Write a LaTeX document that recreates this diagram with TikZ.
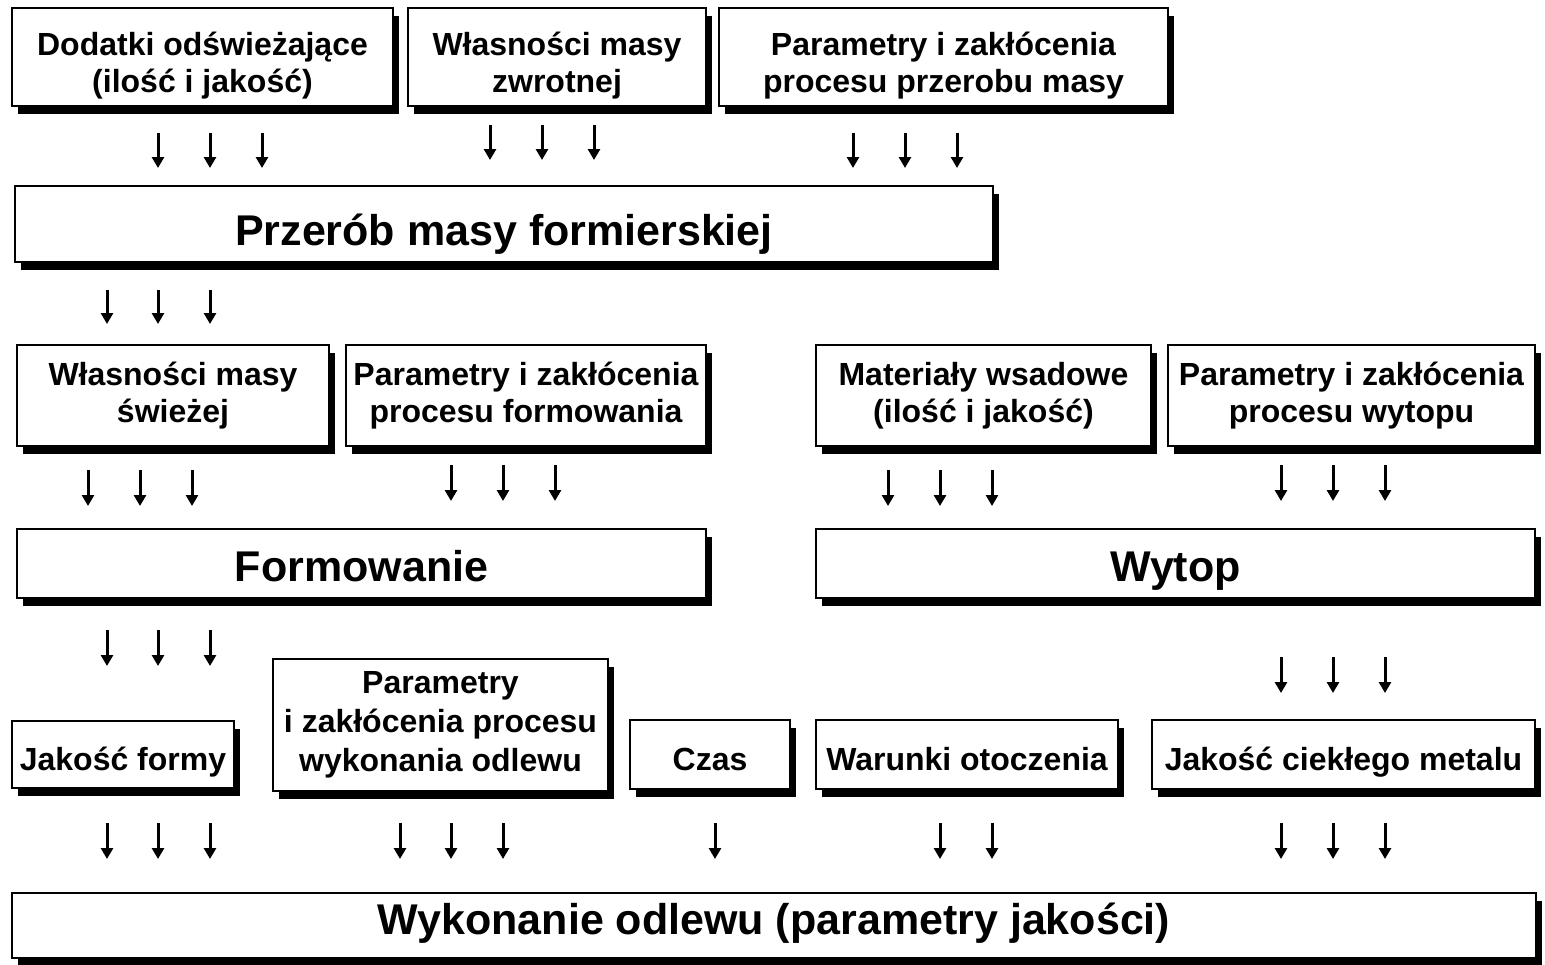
\documentclass[tikz,border=0pt]{standalone}
\usepackage{fontspec}
\setmainfont{Liberation Sans}
\usetikzlibrary{arrows.meta,shadows}

\tikzset{
  box/.style={draw=black, line width=1.3pt, fill=white, inner sep=0pt,
    drop shadow={shadow xshift=6pt, shadow yshift=-8pt, fill=black, opacity=1}},
  label/.style={inner sep=0pt, align=center, anchor=north,
    font=\bfseries\fontsize{32}{37}\selectfont},
  biglabel/.style={label, font=\bfseries\fontsize{43}{50}\selectfont},
  arr/.style={line width=3pt, -{Triangle[width=12pt,length=11pt]}}
}

% box given by its left/top and right/bottom edges, with its text set
% so that the first line sits on the given baseline
\newcommand\boxat[7]{%
  \node[box, minimum width={(#4-#2)*1pt}, minimum height={(#5-#3)*1pt}]
    (#1) at ({(#2+#4)/2},{(#3+#5)/2}) {};
  \node[label] (#1-t) at ({(#2+#4)/2},{#6-26}) {\rule{0pt}{26pt}#7};}
\newcommand\bigboxat[7]{%
  \node[box, minimum width={(#4-#2)*1pt}, minimum height={(#5-#3)*1pt}]
    (#1) at ({(#2+#4)/2},{(#3+#5)/2}) {};
  \node[biglabel] (#1-t) at ({(#2+#4)/2},{#6-35}) {\rule{0pt}{35pt}#7};}

% a group of short downward arrows at the given x positions
\newcommand\arrowsat[3]{%
  \foreach \ax in {#1} \draw[arr] (\ax,#2) -- (\ax,#3);}

\begin{document}
\begin{tikzpicture}[x=1pt,y=-1pt]
\useasboundingbox (0,0) rectangle (1545,964);

% row 1
\boxat{dod}{12}{8}{393}{106}{55}{Dodatki odświeżające\\(ilość i jakość)}
\boxat{wmz}{408}{8}{706}{106}{55}{Własności masy\\zwrotnej}
\boxat{ppm}{719}{8}{1168}{106}{55}{Parametry i zakłócenia\\procesu przerobu masy}
\arrowsat{158,210,262}{133}{168}
\arrowsat{490,542,594}{125}{160}
\arrowsat{853,905,957}{133}{168}

% row 2
\bigboxat{przerob}{15}{186}{993}{262}{245}{Przerób masy formierskiej}
\arrowsat{107,158,210}{290}{324}

% row 3
\boxat{wms}{17}{345}{329}{446}{385}{Własności masy\\świeżej}
\boxat{ppf}{346}{345}{706}{446}{385}{Parametry i zakłócenia\\procesu formowania}
\boxat{mw}{816}{345}{1151}{446}{385}{Materiały wsadowe\\(ilość i jakość)}
\boxat{ppw}{1168}{345}{1535}{446}{385}{Parametry i zakłócenia\\procesu wytopu}
\arrowsat{88,140,192}{470}{506}
\arrowsat{451,503,555}{465}{501}
\arrowsat{888,940,992}{470}{506}
\arrowsat{1281,1333,1385}{465}{501}

% row 4
\bigboxat{form}{17}{529}{706}{598}{581}{Formowanie}
\bigboxat{wytop}{816}{529}{1535}{598}{581}{Wytop}
\arrowsat{107,158,210}{630}{666}
\arrowsat{1281,1333,1385}{657}{693}

% row 5
\boxat{jf}{12}{721}{234}{788}{770}{Jakość formy}
\boxat{ppo}{273}{659}{608}{791}{693}{Parametry\\[2pt]i zakłócenia procesu\\[2pt]wykonania odlewu}
\boxat{czas}{630}{720}{790}{789}{770}{Czas}
\boxat{wo}{816}{720}{1118}{789}{770}{Warunki otoczenia}
\boxat{jcm}{1152}{720}{1535}{789}{770}{Jakość ciekłego metalu}
\arrowsat{107,158,210}{823}{859}
\arrowsat{400,451,503}{823}{859}
\arrowsat{715}{823}{859}
\arrowsat{940,992}{823}{859}
\arrowsat{1281,1333,1385}{823}{859}

% row 6
\bigboxat{wyk}{12}{893}{1536}{958}{934}{Wykonanie odlewu (parametry jakości)}
\end{tikzpicture}
\end{document}
